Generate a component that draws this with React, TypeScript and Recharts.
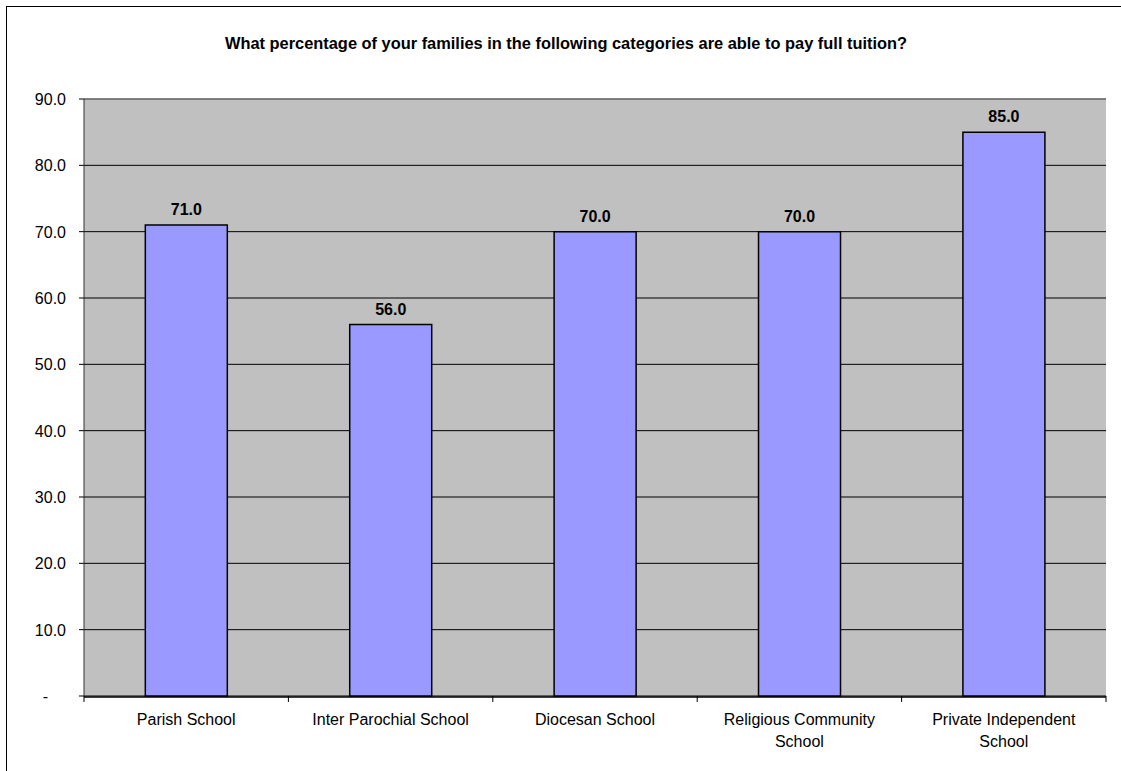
import * as React from 'react';
import { BarChart, Bar, XAxis, YAxis, CartesianGrid, LabelList, ReferenceLine } from 'recharts';

const categories = ['Parish School', 'Inter Parochial School', 'Diocesan School', 'Religious Community School', 'Private Independent School'];
const tickLines = [['Parish School'], ['Inter Parochial School'], ['Diocesan School'], ['Religious Community', 'School'], ['Private Independent', 'School']];
const values = [71.0, 56.0, 70.0, 70.0, 85.0];
const yTicks = [0, 10, 20, 30, 40, 50, 60, 70, 80, 90];
const boundaryTicks = [0, 1, 2, 3, 4, 5];

const data = categories.map((name, i) => ({ name, value: values[i], idx: i + 0.5 }));

const font = '"Liberation Sans", Arial, sans-serif';

const CategoryTick = (props: any) => {
  const { x, y, index } = props;
  const lines = tickLines[index] || [];
  return (
    <g>
      {lines.map((line, i) => (
        <text key={i} x={x} y={y + 20 + i * 22} textAnchor="middle" fontSize={16} fontFamily={font} fill="#000">
          {line}
        </text>
      ))}
    </g>
  );
};

const ValueTick = (props: any) => {
  const { x, y, payload } = props;
  const v = payload.value as number;
  return (
    <text x={v === 0 ? x - 18 : x} y={y + 6} textAnchor="end" fontSize={16} fontFamily={font} fill="#000">
      {v === 0 ? '-' : v.toFixed(1)}
    </text>
  );
};

const EmptyTick = () => <g />;

export default function App() {
  return (
    <div style={{ position: 'absolute', left: 0, top: 0, width: 1121, height: 771, overflow: 'hidden', background: '#fff' }}>
      <div style={{ position: 'absolute', left: 6, top: 6, width: 1200, height: 900, borderLeft: '1px solid #000', borderTop: '1px solid #000' }} />
      <div
        style={{
          position: 'absolute', left: 0, top: 34, width: 1132, textAlign: 'center',
          fontFamily: font, fontWeight: 'bold', fontSize: 16.4, color: '#000',
        }}
      >
        What percentage of your families in the following categories are able to pay full tuition?
      </div>
      <div style={{ position: 'absolute', left: 0, top: 0 }}>
        <BarChart width={1121} height={771} data={data} margin={{ top: 99, right: 15, bottom: 0, left: 0 }} barCategoryGap="30%">
          <CartesianGrid xAxisId="z" vertical={false} stroke="#000" strokeWidth={1} fill="#C0C0C0" fillOpacity={1} />
          <XAxis xAxisId="a" type="number" dataKey="idx" domain={[0, 5]} ticks={boundaryTicks} interval={0} height={1} tick={<EmptyTick />} axisLine={false} tickLine={{ stroke: '#000' }} tickSize={6} />
          <XAxis xAxisId="z" dataKey="name" height={74} interval={0} tickLine={false} axisLine={{ stroke: '#000', strokeWidth: 1.5 }} tick={<CategoryTick />} />
          <YAxis domain={[0, 90]} ticks={yTicks} width={84} interval={0} tickSize={5} tickMargin={13} tickLine={{ stroke: '#000' }} axisLine={{ stroke: '#333' }} tick={<ValueTick />} />
          <YAxis yAxisId="r" orientation="right" domain={[0, 90]} width={0} tick={false} tickLine={false} axisLine={{ stroke: '#808080' }} />
          <ReferenceLine xAxisId="z" y={90} stroke="#808080" strokeWidth={1.5} />
          <Bar xAxisId="z" dataKey="value" fill="#9999FF" stroke="#000" strokeWidth={1.5} isAnimationActive={false}>
            <LabelList
              dataKey="value"
              position="top"
              offset={10}
              formatter={(v: any) => Number(v).toFixed(1)}
              style={{ fontFamily: font, fontWeight: 'bold', fontSize: 16, fill: '#000' }}
            />
          </Bar>
        </BarChart>
      </div>
    </div>
  );
}
